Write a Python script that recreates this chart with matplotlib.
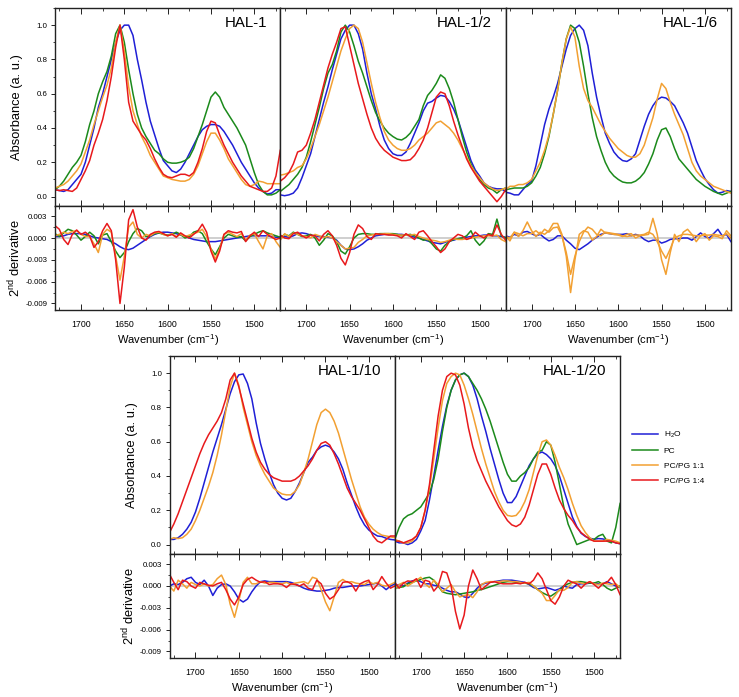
import numpy as np
import matplotlib
matplotlib.use("Agg")
import matplotlib.pyplot as plt
from matplotlib.lines import Line2D
from matplotlib.ticker import MultipleLocator, FormatStrFormatter

plt.rcParams['font.family'] = ['Liberation Sans', 'DejaVu Sans']
plt.rcParams['mathtext.fontset'] = 'custom'
plt.rcParams['mathtext.rm'] = 'Liberation Sans'
plt.rcParams['mathtext.it'] = 'Liberation Sans:italic'
plt.rcParams['axes.unicode_minus'] = False

# wavenumber grid (cm^-1), 1730 -> 1470 step 5
WN = np.arange(1730, 1469, -5)

SERIES = ["H2O", "PC", "PC/PG 1:1", "PC/PG 1:4"]
LEGEND_LABELS = [r"H$_2$O", "PC", "PC/PG 1:1", "PC/PG 1:4"]
COLORS = {"H2O": "#1f1fd6", "PC": "#1b8a1b", "PC/PG 1:1": "#f2a032", "PC/PG 1:4": "#e8191c"}
PANELS = ["HAL-1", "HAL-1/2", "HAL-1/6", "HAL-1/10", "HAL-1/20"]
D2_UNIT = 1e-3

# ---------------- HAL-1 ----------------
hal1_h2o = [0.04, 0.035, 0.03, 0.04, 0.07, 0.1, 0.13, 0.2, 0.3, 0.4,
            0.52, 0.6, 0.7, 0.8, 0.9, 0.97, 1.0, 1.0, 0.94, 0.8,
            0.68, 0.55, 0.44, 0.36, 0.28, 0.21, 0.18, 0.15, 0.14, 0.16,
            0.2, 0.25, 0.3, 0.35, 0.39, 0.41, 0.42, 0.42, 0.41, 0.38,
            0.34, 0.3, 0.25, 0.2, 0.16, 0.12, 0.08, 0.05, 0.03, 0.015,
            0.02, 0.04, 0.04]
hal1_pc = [0.04, 0.06, 0.09, 0.13, 0.17, 0.2, 0.24, 0.32, 0.42, 0.5,
           0.6, 0.67, 0.73, 0.82, 0.95, 1.0, 0.9, 0.74, 0.6, 0.48,
           0.4, 0.35, 0.31, 0.27, 0.25, 0.22, 0.2, 0.195, 0.195, 0.2,
           0.21, 0.23, 0.28, 0.35, 0.42, 0.5, 0.58, 0.61, 0.58, 0.52,
           0.48, 0.44, 0.4, 0.35, 0.3, 0.22, 0.14, 0.07, 0.03, 0.01,
           0.01, 0.02, 0.04]
hal1_pg11 = [0.05, 0.06, 0.07, 0.09, 0.12, 0.15, 0.19, 0.26, 0.33, 0.42,
             0.5, 0.58, 0.65, 0.75, 0.9, 1.0, 0.85, 0.64, 0.5, 0.42,
             0.35, 0.3, 0.24, 0.2, 0.16, 0.12, 0.11, 0.1, 0.095, 0.09,
             0.09, 0.1, 0.13, 0.18, 0.25, 0.32, 0.37, 0.37, 0.33, 0.28,
             0.22, 0.18, 0.14, 0.1, 0.07, 0.06, 0.07, 0.09, 0.085, 0.075,
             0.075, 0.075, 0.075]
hal1_pg14 = [0.04, 0.035, 0.04, 0.035, 0.03, 0.05, 0.1, 0.15, 0.21, 0.3,
             0.37, 0.45, 0.56, 0.7, 0.87, 1.0, 0.8, 0.55, 0.44, 0.4,
             0.36, 0.33, 0.28, 0.22, 0.17, 0.13, 0.115, 0.11, 0.12, 0.13,
             0.13, 0.12, 0.14, 0.2, 0.28, 0.38, 0.44, 0.43, 0.36, 0.3,
             0.25, 0.2, 0.16, 0.12, 0.09, 0.06, 0.05, 0.04, 0.03, 0.03,
             0.05, 0.12, 0.27]
hal1_h2o_d2 = [0.2, 0.2, 0.3, 0.5, 0.6, 0.6, 0.6, 0.5, 0.3, 0.1,
               0.0, -0.1, -0.2, -0.5, -0.8, -1.2, -1.5, -1.6, -1.4, -1.0,
               -0.6, -0.2, 0.2, 0.5, 0.7, 0.8, 0.8, 0.7, 0.6, 0.4,
               0.2, 0.0, -0.2, -0.3, -0.4, -0.5, -0.5, -0.5, -0.4, -0.3,
               -0.2, -0.1, 0.0, 0.1, 0.2, 0.3, 0.3, 0.3, 0.3, 0.3,
               0.2, 0.1, 0.1]
hal1_pc_d2 = [0.6, 0.2, 0.7, 1.2, 1.0, 0.4, -0.3, 0.2, 0.8, 0.3,
              -0.8, 0.4, 0.6, -0.5, -1.8, -2.7, -2.0, -0.5, 0.6, 1.3,
              1.0, 0.2, 0.3, 0.6, 0.7, 0.5, 0.4, 0.5, 0.8, 0.5,
              0.0, 0.2, 0.8, 1.0, 0.6, -0.5, -1.5, -2.3, -1.2, 0.0,
              0.5, 0.3, 0.1, 0.2, -0.4, 0.2, 0.5, 0.8, 1.0, 0.7,
              0.5, 0.3, 0.1]
hal1_pg11_d2 = [0.3, 0.5, 0.8, 0.6, 0.9, 1.0, 0.5, 0.2, 0.2, -0.8,
                -2.0, 0.5, 1.2, 0.8, -2.5, -5.8, -2.5, 1.5, 2.2, 0.5,
                0.0, 0.5, 0.3, 0.7, 0.8, 0.5, 0.3, 0.6, 0.2, 0.5,
                0.2, 0.4, 0.6, 0.8, 1.2, 0.2, -1.5, -2.9, -1.5, 0.5,
                0.8, 0.5, 0.2, 0.6, -0.3, 0.4, 0.6, -0.5, -1.5, 0.3,
                0.6, -0.5, -1.3]
hal1_pg14_d2 = [1.7, 1.2, -0.2, -0.9, 0.5, 1.1, 0.5, 0.8, 0.3, -1.3,
                -0.5, 1.0, 2.0, 1.0, -3.0, -9.0, -4.0, 2.5, 3.9, 1.5,
                0.0, -0.3, 0.5, 0.8, 0.9, 0.6, 0.3, 0.5, 0.1, 0.7,
                0.3, 0.0, 0.5, 1.0, 1.9, 0.8, -1.8, -3.3, -1.8, 0.5,
                1.0, 0.8, 0.7, 0.9, -0.5, 0.3, 0.8, 0.2, 1.0, 0.5,
                0.1, -0.2, 0.0]

# ---------------- HAL-1/2 ----------------
hal2_h2o = [0.01, 0.005, 0.01, 0.02, 0.05, 0.11, 0.18, 0.25, 0.35, 0.45,
            0.55, 0.64, 0.74, 0.83, 0.92, 0.97, 1.0, 1.0, 0.95, 0.86,
            0.72, 0.6, 0.51, 0.41, 0.33, 0.28, 0.25, 0.24, 0.24, 0.26,
            0.31, 0.37, 0.43, 0.5, 0.545, 0.555, 0.575, 0.59, 0.585, 0.555,
            0.51, 0.45, 0.37, 0.29, 0.21, 0.155, 0.12, 0.08, 0.06, 0.05,
            0.045, 0.045, 0.03]
hal2_pc = [0.03, 0.05, 0.07, 0.1, 0.13, 0.17, 0.23, 0.32, 0.42, 0.52,
           0.63, 0.72, 0.77, 0.85, 0.96, 1.0, 0.96, 0.88, 0.79, 0.72,
           0.64, 0.56, 0.49, 0.44, 0.4, 0.37, 0.35, 0.335, 0.33, 0.345,
           0.37, 0.41, 0.45, 0.53, 0.59, 0.62, 0.66, 0.71, 0.69, 0.63,
           0.55, 0.45, 0.35, 0.26, 0.19, 0.14, 0.1, 0.07, 0.05, 0.04,
           0.02, 0.04, 0.05]
hal2_pg11 = [0.125, 0.13, 0.14, 0.15, 0.17, 0.18, 0.22, 0.28, 0.35, 0.42,
             0.5, 0.58, 0.67, 0.76, 0.85, 0.92, 0.98, 1.0, 0.98, 0.9,
             0.78, 0.66, 0.55, 0.46, 0.38, 0.33, 0.3, 0.28, 0.27, 0.27,
             0.28, 0.3, 0.33, 0.35, 0.37, 0.4, 0.43, 0.44, 0.42, 0.4,
             0.37, 0.33, 0.28, 0.23, 0.18, 0.14, 0.11, 0.08, 0.06, 0.045,
             0.035, 0.04, 0.05]
hal2_pg14 = [0.09, 0.11, 0.14, 0.19, 0.26, 0.27, 0.3, 0.37, 0.45, 0.55,
             0.65, 0.75, 0.83, 0.9, 0.98, 0.99, 0.88, 0.77, 0.66, 0.57,
             0.48, 0.4, 0.34, 0.3, 0.27, 0.25, 0.23, 0.22, 0.21, 0.21,
             0.215, 0.24, 0.28, 0.33, 0.4, 0.49, 0.58, 0.61, 0.6, 0.53,
             0.44, 0.36, 0.29, 0.22, 0.17, 0.13, 0.09, 0.06, 0.03, 0.0,
             -0.03, 0.0, 0.04]
hal2_h2o_d2 = [0.3, 0.2, 0.1, 0.3, 0.6, 0.7, 0.6, 0.4, 0.3, 0.2,
               0.2, 0.1, 0.0, -0.3, -1.0, -1.5, -1.6, -1.5, -1.2, -0.8,
               -0.3, 0.0, 0.3, 0.4, 0.5, 0.5, 0.5, 0.5, 0.5, 0.4,
               0.3, 0.1, 0.0, -0.2, -0.4, -0.6, -0.7, -0.8, -0.6, -0.4,
               -0.3, -0.1, 0.0, 0.1, 0.2, 0.3, 0.3, 0.4, 0.4, 0.3,
               0.3, 0.2, 0.1]
hal2_pc_d2 = [0.0, 0.5, 0.3, 0.8, 0.5, 0.2, 0.3, 0.5, 0.0, -1.0,
              -0.3, 0.6, 0.3, -0.5, -1.8, -2.2, -1.2, 0.0, 0.5, 0.6,
              0.6, 0.5, 0.5, 0.6, 0.6, 0.6, 0.6, 0.5, 0.3, 0.4,
              0.5, 0.3, 0.0, -0.3, -0.2, -0.8, -1.5, -1.8, -1.0, -0.5,
              -0.2, -0.1, 0.0, 0.3, 1.0, -0.3, -1.0, -0.4, 0.6, 0.5,
              2.6, 0.3, 0.0]
hal2_pg11_d2 = [-0.3, 0.6, 0.2, 0.7, 0.5, 0.3, 0.2, 0.0, 0.5, 0.3,
                0.1, 0.2, 0.0, -0.5, -1.0, -1.5, -1.4, -1.3, -0.6, -0.2,
                0.3, 0.4, 0.5, 0.5, 0.6, 0.6, 0.5, 0.4, 0.4, 0.4,
                0.4, 0.5, 0.2, 0.0, -0.2, -0.3, -0.4, -0.6, -0.5, -0.3,
                -0.1, -0.2, -0.2, -0.1, 0.0, 0.1, 0.2, 0.3, 0.3, 0.3,
                0.4, -0.2, -0.5]
hal2_pg14_d2 = [0.4, 0.0, -0.1, 0.6, 0.8, 0.3, 0.0, 0.4, 0.3, -0.4,
                0.5, 1.0, 0.3, -1.0, -2.8, -3.7, -2.0, 0.5, 1.8, 1.3,
                0.2, -0.2, 0.6, 0.5, 0.5, 0.4, 0.4, 0.3, 0.0, 0.6,
                0.2, -0.2, 0.8, 1.0, 0.3, -0.5, -1.2, -2.0, -1.5, -0.5,
                0.0, 0.5, 0.3, -0.2, 0.0, 0.8, 0.3, 0.0, 0.5, 0.3,
                1.8, 0.5, -0.3]

# ---------------- HAL-1/6 ----------------
hal6_h2o = [0.025, 0.02, 0.01, 0.01, 0.04, 0.07, 0.09, 0.18, 0.3, 0.42,
            0.51, 0.58, 0.66, 0.76, 0.86, 0.94, 0.98, 1.0, 0.97, 0.88,
            0.72, 0.58, 0.47, 0.37, 0.31, 0.26, 0.23, 0.21, 0.205, 0.22,
            0.25, 0.33, 0.41, 0.48, 0.53, 0.565, 0.58, 0.575, 0.555, 0.53,
            0.48, 0.43, 0.37, 0.29, 0.21, 0.155, 0.105, 0.07, 0.04, 0.02,
            0.025, 0.035, 0.03]
hal6_pc = [0.04, 0.045, 0.05, 0.05, 0.05, 0.06, 0.08, 0.12, 0.17, 0.25,
           0.35, 0.48, 0.62, 0.78, 0.92, 1.0, 0.98, 0.9, 0.76, 0.6,
           0.46, 0.35, 0.27, 0.2, 0.15, 0.12, 0.1, 0.085, 0.08, 0.08,
           0.09, 0.11, 0.14, 0.19, 0.25, 0.33, 0.39, 0.4, 0.35, 0.28,
           0.22, 0.19, 0.16, 0.13, 0.1, 0.08, 0.06, 0.045, 0.03, 0.02,
           0.01, 0.02, 0.03]
hal6_pg11 = [0.04, 0.06, 0.06, 0.07, 0.07, 0.08, 0.1, 0.15, 0.2, 0.27,
             0.36, 0.48, 0.62, 0.78, 0.92, 0.99, 0.93, 0.76, 0.63, 0.56,
             0.52, 0.47, 0.42, 0.38, 0.34, 0.31, 0.28, 0.26, 0.24, 0.23,
             0.23, 0.25, 0.3, 0.38, 0.46, 0.57, 0.66, 0.63, 0.55, 0.48,
             0.42, 0.36, 0.28, 0.2, 0.15, 0.12, 0.1, 0.08, 0.06, 0.05,
             0.04, 0.03, 0.02]
hal6_h2o_d2 = [0.3, 0.1, 0.5, 0.3, 0.8, 0.9, 0.6, 0.3, 0.5, 0.0,
               -0.4, -0.2, 0.3, 0.3, -0.3, -0.8, -1.4, -1.6, -1.2, -0.8,
               -0.3, 0.1, 0.5, 0.7, 0.6, 0.5, 0.5, 0.5, 0.6, 0.3,
               0.5, 0.3, -0.2, -0.5, -0.3, -0.3, -0.7, -0.5, -0.2, -0.1,
               -0.1, 0.0, 0.0, -0.3, 0.2, 0.7, 0.2, 0.0, 0.6, 1.2,
               0.3, 0.5, -0.5]
hal6_pc_d2 = [0.2, 0.0, 0.8, 0.6, 0.3, 0.6, 0.6, 1.0, 0.5, 1.2,
              0.8, 1.4, 1.5, 0.3, -2.0, -5.0, -2.5, -0.5, 0.8, 1.5,
              1.2, 0.5, 0.3, 0.8, 0.7, 0.6, 0.5, 0.3, 0.2, 0.3,
              0.4, 0.4, 0.5, 0.8, 0.5, -0.5, -1.8, -2.8, -1.5, 0.0,
              0.3, 0.5, 0.5, 0.4, 0.3, 0.3, 0.4, 0.4, 0.5, 0.4,
              0.3, 0.6, 0.0]
hal6_pg11_d2 = [0.3, -0.4, 0.8, 0.2, 1.0, 2.2, 1.0, 0.2, 0.8, 0.5,
                1.0, 2.0, 2.0, 0.5, -2.5, -7.5, -3.0, 0.5, 1.0, 0.8,
                -0.3, 0.2, 1.2, 0.7, 0.6, 0.5, 0.4, 0.2, 0.5, 0.6,
                0.0, 0.3, 0.4, 0.5, 2.7, 0.5, -3.0, -5.0, -2.0, 0.5,
                -0.5, 0.8, 1.2, 0.5, -0.5, 0.3, 0.6, -0.3, 0.3, 0.2,
                -0.1, 1.0, 0.3]

# ---------------- HAL-1/10 ----------------
hal10_h2o = [0.03, 0.03, 0.04, 0.06, 0.09, 0.13, 0.19, 0.27, 0.36, 0.45,
             0.54, 0.62, 0.7, 0.79, 0.88, 0.95, 0.99, 0.995, 0.94, 0.85,
             0.71, 0.59, 0.5, 0.42, 0.35, 0.3, 0.27, 0.26, 0.27, 0.31,
             0.36, 0.42, 0.48, 0.51, 0.55, 0.57, 0.58, 0.57, 0.54, 0.5,
             0.44, 0.36, 0.29, 0.22, 0.16, 0.115, 0.085, 0.065, 0.05, 0.047,
             0.037, 0.03, 0.027]
hal10_pg11 = [0.03, 0.04, 0.035, 0.04, 0.06, 0.09, 0.14, 0.2, 0.27, 0.34,
              0.42, 0.52, 0.64, 0.78, 0.92, 1.0, 0.93, 0.8, 0.7, 0.6,
              0.52, 0.46, 0.41, 0.37, 0.33, 0.31, 0.295, 0.29, 0.29, 0.31,
              0.35, 0.42, 0.5, 0.6, 0.7, 0.77, 0.79, 0.77, 0.72, 0.65,
              0.56, 0.47, 0.38, 0.3, 0.22, 0.16, 0.12, 0.09, 0.07, 0.055,
              0.05, 0.045, 0.04]
hal10_pg14 = [0.07, 0.12, 0.18, 0.25, 0.32, 0.39, 0.46, 0.53, 0.59, 0.64,
              0.68, 0.72, 0.77, 0.85, 0.96, 1.0, 0.92, 0.82, 0.72, 0.62,
              0.54, 0.48, 0.44, 0.41, 0.39, 0.38, 0.37, 0.37, 0.37, 0.38,
              0.4, 0.43, 0.46, 0.5, 0.55, 0.59, 0.6, 0.58, 0.53, 0.47,
              0.4, 0.33, 0.28, 0.24, 0.2, 0.15, 0.1, 0.05, 0.02, 0.01,
              0.03, 0.05, 0.05]
hal10_h2o_d2 = [0.0, 0.3, 0.2, 0.5, 1.0, 1.2, 0.5, 0.2, 0.8, 0.0,
                -1.3, -0.3, 0.2, 0.3, 0.0, -0.8, -1.8, -2.2, -1.8, -0.8,
                0.0, 0.6, 0.7, 0.6, 0.6, 0.6, 0.6, 0.6, 0.5, 0.3,
                0.0, -0.3, -0.5, -0.6, -0.7, -0.7, -0.6, -0.5, -0.3, -0.2,
                -0.2, -0.1, 0.0, 0.0, 0.0, 0.1, 0.2, 0.3, 0.4, 0.0,
                -0.5, 0.0, 0.3]
hal10_pg11_d2 = [0.0, -0.7, 0.8, 0.3, -0.3, 0.5, 0.2, 0.0, 0.3, 0.0,
                 0.2, 1.0, 1.5, 0.2, -2.5, -4.3, -2.0, 0.5, 1.2, 0.3,
                 0.3, 0.6, 0.4, 0.5, 0.5, 0.4, 0.3, 0.5, 0.2, 0.4,
                 0.5, 0.6, 0.3, 1.2, 1.0, -0.5, -2.2, -3.4, -1.5, 0.5,
                 0.9, 0.5, 0.6, 0.4, 0.3, 0.2, 0.6, 0.3, 0.5, 0.1,
                 0.0, 0.2, 0.5]
hal10_pg14_d2 = [1.6, 0.5, -0.5, 0.8, 0.6, 0.0, -0.3, 0.5, 0.3, 0.1,
                 0.0, 0.3, 0.5, -0.5, -1.8, -2.6, -1.5, 0.2, 0.9, 1.2,
                 0.8, 0.5, 0.6, 0.2, 0.3, 0.3, 0.2, -0.2, 0.3, 0.2,
                 0.0, 0.3, -0.3, -0.5, 0.8, 0.3, -1.0, -1.8, -1.4, -0.5,
                 0.5, 0.6, 0.3, -0.7, 0.3, 0.6, 0.8, -0.5, 0.2, 1.3,
                 0.4, -0.3, 0.0]

# ---------------- HAL-1/20 ----------------
hal20_h2o = [0.02, 0.01, 0.01, 0.0, 0.01, 0.03, 0.08, 0.14, 0.26, 0.4,
             0.55, 0.69, 0.81, 0.9, 0.96, 0.99, 1.0, 0.98, 0.93, 0.85,
             0.75, 0.66, 0.56, 0.47, 0.38, 0.3, 0.245, 0.245, 0.28, 0.34,
             0.4, 0.46, 0.5, 0.53, 0.54, 0.525, 0.5, 0.46, 0.4, 0.32,
             0.24, 0.16, 0.105, 0.066, 0.047, 0.037, 0.031, 0.035, 0.033, 0.027,
             0.02, 0.01, 0.005]
hal20_pc = [0.03, 0.1, 0.15, 0.17, 0.18, 0.2, 0.22, 0.26, 0.3, 0.38,
            0.5, 0.66, 0.8, 0.9, 0.96, 0.99, 1.0, 0.98, 0.94, 0.9,
            0.85, 0.79, 0.72, 0.64, 0.56, 0.48, 0.41, 0.37, 0.37, 0.4,
            0.42, 0.45, 0.5, 0.54, 0.55, 0.6, 0.58, 0.48, 0.35, 0.22,
            0.12, 0.06, 0.0, 0.01, 0.02, 0.03, 0.03, 0.05, 0.06, 0.02,
            0.01, 0.1, 0.24]
hal20_pg11 = [0.03, 0.02, 0.01, 0.01, 0.02, 0.05, 0.1, 0.2, 0.33, 0.5,
              0.68, 0.84, 0.94, 0.98, 1.0, 0.99, 0.93, 0.85, 0.76, 0.66,
              0.56, 0.47, 0.39, 0.31, 0.25, 0.2, 0.17, 0.165, 0.17, 0.2,
              0.25, 0.32, 0.42, 0.52, 0.6, 0.61, 0.58, 0.52, 0.45, 0.39,
              0.32, 0.24, 0.17, 0.11, 0.07, 0.04, 0.02, 0.02, 0.02, 0.03,
              0.025, 0.02, 0.01]
hal20_pg14 = [0.02, 0.02, 0.01, 0.02, 0.03, 0.05, 0.1, 0.2, 0.35, 0.55,
              0.75, 0.9, 0.98, 1.0, 0.99, 0.93, 0.82, 0.68, 0.57, 0.49,
              0.43, 0.37, 0.32, 0.27, 0.22, 0.18, 0.14, 0.115, 0.105, 0.12,
              0.16, 0.23, 0.32, 0.41, 0.47, 0.47, 0.41, 0.33, 0.26, 0.21,
              0.17, 0.14, 0.1, 0.07, 0.05, 0.03, 0.02, 0.02, 0.02, 0.02,
              0.02, 0.01, 0.005]
hal20_h2o_d2 = [0.0, 0.2, 0.0, 0.4, 0.7, 0.8, 0.6, 0.3, 0.3, 0.1,
                0.0, -0.3, -0.6, -0.8, -0.8, -1.1, -1.5, -1.6, -1.0, -0.3,
                0.2, 0.4, 0.5, 0.6, 0.7, 0.8, 0.8, 0.8, 0.7, 0.6,
                0.5, 0.2, -0.2, -0.4, -0.3, -0.2, -0.4, -0.6, -0.4, 0.0,
                -0.2, -0.3, 0.2, 0.3, 0.3, 0.4, 0.4, 0.3, 0.3, 0.6,
                0.3, 0.0, -0.2]
hal20_pc_d2 = [-0.3, -0.2, -0.1, 0.3, 0.5, 0.7, 0.9, 1.1, 1.2, 0.8,
               0.0, -0.8, -1.0, -1.1, -1.2, -1.1, -1.0, -0.9, -0.8, -0.6,
               -0.5, -0.3, -0.1, 0.1, 0.3, 0.5, 0.6, 0.6, 0.5, 0.4,
               0.4, 0.3, 0.0, -0.5, -0.9, -1.2, -1.4, -1.0, -0.6, 0.0,
               0.3, 0.5, 0.6, 0.6, 0.5, 0.4, 0.4, 0.6, 0.2, -0.3,
               -0.6, -0.3, 0.0]
hal20_pg11_d2 = [-0.5, 0.2, 0.5, 0.0, 0.4, 0.8, 1.2, 0.3, -0.2, 0.8,
                 0.2, -0.8, -0.3, 0.2, -0.8, -1.5, -1.3, -1.2, -1.6, -0.8,
                 0.2, 0.5, 0.6, 0.6, 0.6, 0.7, 0.7, 0.6, 0.6, 0.5,
                 0.4, 0.5, 0.0, -0.5, -1.0, -2.0, -2.0, -1.3, -0.5, -0.6,
                 -0.2, 0.5, 0.6, 0.4, 0.3, 0.6, 0.3, 0.2, 0.4, 0.3,
                 0.2, 0.3, -0.2]
hal20_pg14_d2 = [0.5, -0.3, 0.4, 0.7, 0.6, 1.0, -0.2, 0.8, 0.6, -0.7,
                 0.0, 2.0, 1.8, 0.0, -3.5, -5.9, -4.0, 0.0, 2.2, 1.0,
                 -0.5, 0.0, 0.5, 0.6, 0.4, 0.3, 0.3, 0.3, 0.4, 0.3,
                 0.5, 0.3, 0.8, 1.8, 1.0, -0.5, -2.0, -2.5, -1.5, 0.0,
                 0.8, 0.5, 0.3, -0.3, 0.3, 0.6, 0.2, -0.3, 0.3, 0.5,
                 1.2, 0.2, -1.2]

# which series are drawn in each panel (absorbance, 2nd derivative)
ABS = {
    "HAL-1": [("H2O", hal1_h2o), ("PC", hal1_pc), ("PC/PG 1:1", hal1_pg11), ("PC/PG 1:4", hal1_pg14)],
    "HAL-1/2": [("H2O", hal2_h2o), ("PC", hal2_pc), ("PC/PG 1:1", hal2_pg11), ("PC/PG 1:4", hal2_pg14)],
    "HAL-1/6": [("H2O", hal6_h2o), ("PC", hal6_pc), ("PC/PG 1:1", hal6_pg11)],
    "HAL-1/10": [("H2O", hal10_h2o), ("PC/PG 1:1", hal10_pg11), ("PC/PG 1:4", hal10_pg14)],
    "HAL-1/20": [("H2O", hal20_h2o), ("PC", hal20_pc), ("PC/PG 1:1", hal20_pg11), ("PC/PG 1:4", hal20_pg14)],
}
D2 = {
    "HAL-1": [("H2O", hal1_h2o_d2), ("PC", hal1_pc_d2), ("PC/PG 1:1", hal1_pg11_d2), ("PC/PG 1:4", hal1_pg14_d2)],
    "HAL-1/2": [("H2O", hal2_h2o_d2), ("PC", hal2_pc_d2), ("PC/PG 1:1", hal2_pg11_d2), ("PC/PG 1:4", hal2_pg14_d2)],
    # in the original the PC derivative of HAL-1/6 is drawn in orange as well
    "HAL-1/6": [("H2O", hal6_h2o_d2), ("PC/PG 1:1", hal6_pc_d2), ("PC/PG 1:1", hal6_pg11_d2)],
    "HAL-1/10": [("H2O", hal10_h2o_d2), ("PC/PG 1:1", hal10_pg11_d2), ("PC/PG 1:4", hal10_pg14_d2)],
    "HAL-1/20": [("H2O", hal20_h2o_d2), ("PC", hal20_pc_d2), ("PC/PG 1:1", hal20_pg11_d2), ("PC/PG 1:4", hal20_pg14_d2)],
}

W, H = 739, 697
fig = plt.figure(figsize=(W / 100, H / 100), dpi=100)

PW = 225.3
ABS_H, D2_H = 198, 104
# (left px, top px, first-in-row)
layout = {
    "HAL-1": (55, 8, True),
    "HAL-1/2": (55 + PW, 8, False),
    "HAL-1/6": (55 + 2 * PW, 8, False),
    "HAL-1/10": (169.5, 356, True),
    "HAL-1/20": (169.5 + PW, 356, False),
}

XTICK_FS = 6.3
YTICK_FS = 5.7
XLABEL_FS = 8.0
YLABEL_FS = 9.3
SPINE_C = "#222222"


def style(ax, first, show_x):
    ax.set_xlim(1730, 1470)
    ax.xaxis.set_major_locator(MultipleLocator(50))
    ax.xaxis.set_minor_locator(MultipleLocator(25))
    ax.tick_params(axis="x", which="both", direction="in", top=True, bottom=True,
                   labelsize=XTICK_FS, pad=7, color=SPINE_C)
    ax.tick_params(axis="x", which="major", length=4, width=0.7)
    ax.tick_params(axis="x", which="minor", length=2.5, width=0.6)
    ax.tick_params(axis="y", which="both", direction="out", left=first, right=False,
                   labelleft=first, labelsize=YTICK_FS, pad=2.5, color=SPINE_C)
    ax.tick_params(axis="y", which="major", length=3, width=0.7)
    ax.tick_params(axis="y", which="minor", length=1.8, width=0.6)
    if not show_x:
        ax.tick_params(axis="x", labelbottom=False)
    for s in ax.spines.values():
        s.set_color(SPINE_C)
        s.set_linewidth(1.0)


for name in PANELS:
    left, top, first = layout[name]
    ax_a = fig.add_axes([left / W, 1 - (top + ABS_H) / H, PW / W, ABS_H / H])
    ax_d = fig.add_axes([left / W, 1 - (top + ABS_H + D2_H) / H, PW / W, D2_H / H])

    for key, vals in ABS[name]:
        ax_a.plot(WN, vals, color=COLORS[key], lw=1.1)
    ax_a.set_ylim(-0.055, 1.1)
    ax_a.yaxis.set_major_locator(MultipleLocator(0.2))
    ax_a.yaxis.set_minor_locator(MultipleLocator(0.1))
    ax_a.yaxis.set_major_formatter(FormatStrFormatter("%.1f"))
    style(ax_a, first, False)
    ax_a.text(0.94, 0.925, name, transform=ax_a.transAxes, ha="right", va="center",
              fontsize=10.8)

    ax_d.axhline(0, color="#cfcfcf", lw=1.4, zorder=1)
    for key, vals in D2[name]:
        ax_d.plot(WN, np.asarray(vals) * D2_UNIT, color=COLORS[key], lw=1.1, zorder=2)
    ax_d.set_ylim(-0.0099, 0.0044)
    ax_d.yaxis.set_major_locator(MultipleLocator(0.003))
    ax_d.yaxis.set_minor_locator(MultipleLocator(0.0015))
    ax_d.yaxis.set_major_formatter(FormatStrFormatter("%.3f"))
    style(ax_d, first, True)
    ax_d.set_xlabel(r"Wavenumber (cm$^{-1}$)", fontsize=XLABEL_FS, labelpad=2.5)

    if first:
        ax_a.set_ylabel("Absorbance (a. u.)", fontsize=YLABEL_FS)
        ax_d.set_ylabel(r"2$^{\mathrm{nd}}$ derivative", fontsize=YLABEL_FS)
        ax_a.yaxis.set_label_coords(-32 / PW, 0.5)
        ax_d.yaxis.set_label_coords(-32 / PW, 0.5)

handles = [Line2D([], [], color=COLORS[k], lw=1.1) for k in SERIES]
fig.legend(handles, LEGEND_LABELS, loc="upper left", bbox_to_anchor=(632 / W, 1 - 430 / H),
           frameon=False, fontsize=6.0, handlelength=3.1, handletextpad=0.7,
           labelspacing=0.85, borderpad=0, borderaxespad=0)

fig.savefig("out.png", dpi=100)
